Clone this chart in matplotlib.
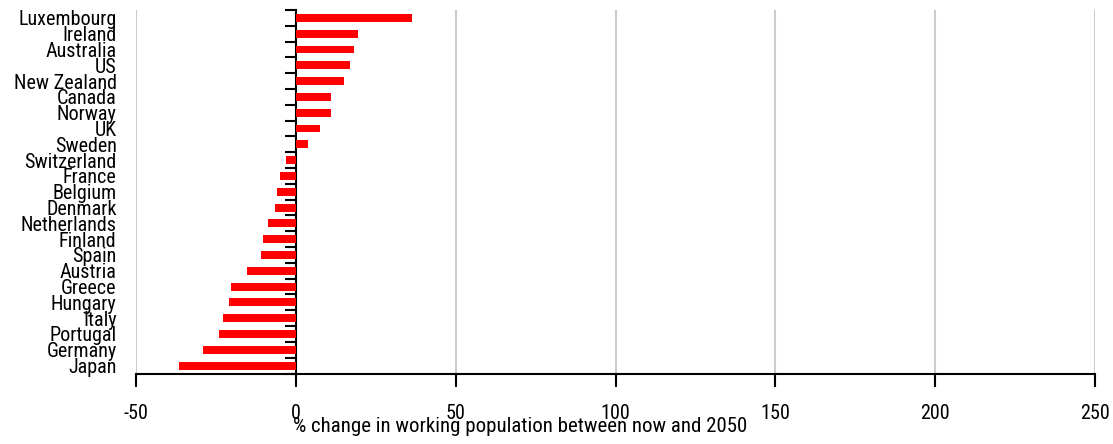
import matplotlib
matplotlib.use("Agg")
import matplotlib.pyplot as plt
import numpy as np

countries = ["Luxembourg", "Ireland", "Australia", "US", "New Zealand", "Canada",
             "Norway", "UK", "Sweden", "Switzerland", "France", "Belgium", "Denmark",
             "Netherlands", "Finland", "Spain", "Austria", "Greece", "Hungary",
             "Italy", "Portugal", "Germany", "Japan"]
change_pct = [36.3, 19.5, 18.2, 17.0, 15.1, 11.0, 11.0, 7.5, 3.8, -3.1, -4.9, -5.8,
              -6.5, -8.7, -10.2, -10.8, -15.2, -20.2, -20.8, -22.7, -24.0, -29.0, -36.5]
x_ticks = [-50, 0, 50, 100, 150, 200, 250]

plt.rcParams["font.family"] = ["Roboto Condensed", "Archivo Narrow", "DejaVu Sans"]

fig = plt.figure(figsize=(11.13, 4.44), dpi=100)
ax = fig.add_axes([136 / 1113, 1 - 373.5 / 444, (1095 - 136) / 1113, (373.5 - 10) / 444])

n = len(countries)
ypos = np.arange(n)
ax.barh(ypos, change_pct, height=0.5, color="#ff0000", zorder=3)
ax.set_ylim(n - 0.5, -0.5)
ax.set_xlim(-50, 250)

# vertical grid
for xv in x_ticks:
    if xv != 0:
        ax.axvline(xv, color="#cccccc", lw=1.5, zorder=1)

ax.set_xticks(x_ticks)
ax.set_xticklabels([str(v) for v in x_ticks], fontsize=14.5)
ax.tick_params(axis="x", direction="out", length=9, width=1.5, pad=13, colors="black")

ax.set_yticks(ypos)
ax.set_yticklabels(countries, fontsize=14.5)
ax.tick_params(axis="y", length=0, pad=14)

for s in ["top", "right", "left"]:
    ax.spines[s].set_visible(False)
ax.spines["bottom"].set_linewidth(1.5)

# zero axis with category-boundary ticks
zero_ax = ax.secondary_yaxis((0 - (-50)) / 300)
zero_ax.set_yticks(np.arange(n + 1) - 0.5)
zero_ax.set_yticklabels([])
zero_ax.tick_params(axis="y", direction="out", length=8, width=1.5)
zero_ax.spines["left"].set_linewidth(1.5)

ax.set_xlabel("% change in working population between now and 2050", fontsize=15)
ax.xaxis.set_label_coords((520 - 136) / 959, -0.121)

fig.savefig("out.png", dpi=100)
